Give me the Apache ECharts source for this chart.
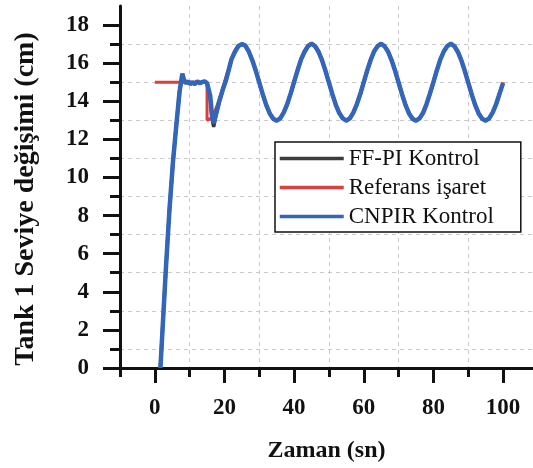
<!DOCTYPE html>
<html><head><meta charset="utf-8">
<script src="https://cdn.jsdelivr.net/npm/echarts@6/dist/echarts.min.js"></script>
<style>html,body{margin:0;padding:0;background:#fff}#c{width:533px;height:468px}</style>
</head><body><div id="c"></div>
<script>
const seriesNames = ['FF-PI Kontrol', 'Referans işaret', 'CNPIR Kontrol'];
const xTitle = 'Zaman (sn)';
const yTitle = 'Tank 1 Seviye değişimi (cm)';
const xMajorTicks = [0, 20, 40, 60, 80, 100];
const xMinorTicks = [-10, 10, 30, 50, 70, 90];
const yMajorTicks = [0, 2, 4, 6, 8, 10, 12, 14, 16, 18];
const yMinorTicks = [1, 3, 5, 7, 9, 11, 13, 15, 17];

// Reference signal
const refTime = [0, 15, 15, 16, 17, 18, 19, 20, 21, 22, 23, 24, 25, 26, 27, 28, 29, 30, 31, 32, 33, 34,
  35, 36, 37, 38, 39, 40, 41, 42, 43, 44, 45, 46, 47, 48, 49, 50, 51, 52, 53, 54,
  55, 56, 57, 58, 59, 60, 61, 62, 63, 64, 65, 66, 67, 68, 69, 70, 71, 72, 73, 74,
  75, 76, 77, 78, 79, 80, 81, 82, 83, 84, 85, 86, 87, 88, 89, 90, 91, 92, 93, 94,
  95, 96, 97, 98, 99, 100];
const refLevel = [15, 15, 13, 13.1, 13.38, 13.82, 14.38, 15, 15.62, 16.18, 16.62, 16.9, 17, 16.9, 16.62, 16.18, 15.62, 15, 14.38, 13.82, 13.38, 13.1,
  13, 13.1, 13.38, 13.82, 14.38, 15, 15.62, 16.18, 16.62, 16.9, 17, 16.9, 16.62, 16.18, 15.62, 15, 14.38, 13.82, 13.38, 13.1,
  13, 13.1, 13.38, 13.82, 14.38, 15, 15.62, 16.18, 16.62, 16.9, 17, 16.9, 16.62, 16.18, 15.62, 15, 14.38, 13.82, 13.38, 13.1,
  13, 13.1, 13.38, 13.82, 14.38, 15, 15.62, 16.18, 16.62, 16.9, 17, 16.9, 16.62, 16.18, 15.62, 15, 14.38, 13.82, 13.38, 13.1,
  13, 13.1, 13.38, 13.82, 14.38, 15];

// Simulated responses (shared time base)
const simTime = [1.6, 2.3, 3.2, 4.2, 5.2, 6.2, 7.1, 7.9, 8.4, 9.0, 9.6, 10.2, 10.8, 11.5, 12.2, 12.9, 13.6, 14.3, 15.0, 15.4,
  15.9, 16.4, 16.9, 17.5, 18.5, 19.5, 20.5, 21.3,
  22, 23, 24, 25, 26, 27, 28, 29, 30, 31, 32, 33, 34, 35, 36, 37, 38, 39, 40,
  41, 42, 43, 44, 45, 46, 47, 48, 49, 50, 51, 52, 53, 54, 55, 56, 57, 58, 59, 60,
  61, 62, 63, 64, 65, 66, 67, 68, 69, 70, 71, 72, 73, 74, 75, 76, 77, 78, 79, 80,
  81, 82, 83, 84, 85, 86, 87, 88, 89, 90, 91, 92, 93, 94, 95, 96, 97, 98, 99, 100];
const cnpirLevel = [0, 2.3, 5.3, 8.3, 10.8, 12.8, 14.5, 15.45, 15.1, 14.95, 15.05, 14.9, 15.0, 14.9, 15.05, 14.95, 15.0, 15.05, 14.95, 15.0,
  14.3, 13.3, 12.85, 13.3, 14.0, 14.6, 15.15, 15.7,
  16.2, 16.6, 16.9, 17.0, 16.92, 16.6, 16.15, 15.6, 14.98, 14.36, 13.8, 13.36, 13.08, 12.98, 13.1, 13.4, 13.84, 14.4, 15.02,
  15.63, 16.2, 16.6, 16.9, 17.02, 16.9, 16.6, 16.16, 15.6, 14.98, 14.36, 13.8, 13.37, 13.1, 12.98, 13.1, 13.4, 13.84, 14.38, 15.0,
  15.62, 16.18, 16.63, 16.9, 17.02, 16.88, 16.6, 16.15, 15.6, 14.98, 14.36, 13.8, 13.36, 13.08, 12.98, 13.1, 13.38, 13.84, 14.4, 15.0,
  15.63, 16.2, 16.62, 16.9, 17.02, 16.9, 16.6, 16.16, 15.6, 14.98, 14.36, 13.8, 13.36, 13.08, 12.98, 13.1, 13.4, 13.84, 14.4, 14.95];
const ffpiLevel = [0, 2.3, 5.3, 8.3, 10.8, 12.8, 14.5, 15.4, 15.1, 14.95, 15.05, 14.9, 15.0, 14.9, 15.05, 14.95, 15.0, 15.05, 14.95, 15.0,
  14.2, 13.1, 12.65, 13.2, 13.95, 14.6, 15.15, 15.7,
  16.2, 16.6, 16.9, 17.0, 16.92, 16.6, 16.15, 15.6, 14.98, 14.36, 13.8, 13.36, 13.08, 12.98, 13.1, 13.4, 13.84, 14.4, 15.02,
  15.63, 16.2, 16.6, 16.9, 17.02, 16.9, 16.6, 16.16, 15.6, 14.98, 14.36, 13.8, 13.37, 13.1, 12.98, 13.1, 13.4, 13.84, 14.38, 15.0,
  15.62, 16.18, 16.63, 16.9, 17.02, 16.88, 16.6, 16.15, 15.6, 14.98, 14.36, 13.8, 13.36, 13.08, 12.98, 13.1, 13.38, 13.84, 14.4, 15.0,
  15.63, 16.2, 16.62, 16.9, 17.02, 16.9, 16.6, 16.16, 15.6, 14.98, 14.36, 13.8, 13.36, 13.08, 12.98, 13.1, 13.4, 13.84, 14.4, 14.95];

function pairs(t, v) { return t.map(function (x, i) { return [x, v[i]]; }); }

const FONT = 'Liberation Serif, Times New Roman, serif';
const AX = '#111';
const gridDash = { color: '#c9c9c9', width: 1, type: [4, 4] };

const chart = echarts.init(document.getElementById('c'), null, { renderer: 'canvas' });
chart.setOption({
  animation: false,
  backgroundColor: '#fff',
  grid: { left: 120, right: 0, top: 6, bottom: 99, containLabel: false },
  legend: {
    data: seriesNames,
    orient: 'vertical',
    left: 275, top: 142,
    itemWidth: 64, itemHeight: 20, itemGap: 6,
    padding: [5, 27, 4, 3],
    borderColor: '#111', borderWidth: 1.5,
    backgroundColor: '#fff',
    itemStyle: { opacity: 0 },
    lineStyle: { width: 3.5 },
    textStyle: { fontFamily: FONT, fontSize: 23, color: '#111' }
  },
  xAxis: [
    {
      type: 'value', position: 'bottom', min: -10, max: 108.6, z: 3,
      name: xTitle, nameLocation: 'middle', nameGap: 71,
      nameTextStyle: { fontFamily: FONT, fontWeight: 'bold', fontSize: 24, color: AX },
      axisLine: { show: true, onZero: false, lineStyle: { color: AX, width: 3 } },
      axisTick: { show: true, customValues: xMajorTicks, length: 15, lineStyle: { color: AX, width: 3 } },
      axisLabel: { customValues: xMajorTicks, margin: 29, fontFamily: FONT, fontWeight: 'bold', fontSize: 23, color: AX },
      splitLine: { show: false }
    },
    {
      type: 'value', position: 'bottom', min: -10, max: 108.6, z: 1,
      axisLine: { show: false, onZero: false },
      axisTick: { show: true, customValues: xMinorTicks, length: 9, lineStyle: { color: AX, width: 3 } },
      axisLabel: { show: false },
      splitLine: { show: true, lineStyle: gridDash }
    }
  ],
  yAxis: [
    {
      type: 'value', position: 'left', min: 0, max: 19, z: 3,
      name: yTitle, nameLocation: 'middle', nameGap: 80, nameRotate: 90,
      nameTextStyle: { fontFamily: FONT, fontWeight: 'bold', fontSize: 28, color: AX, padding: [0, 24, 0, 0] },
      axisLine: { show: true, onZero: false, lineStyle: { color: AX, width: 3 } },
      axisTick: { show: true, customValues: yMajorTicks, length: 17, lineStyle: { color: AX, width: 3 } },
      axisLabel: { customValues: yMajorTicks, margin: 31, fontFamily: FONT, fontWeight: 'bold', fontSize: 23, color: AX },
      splitLine: { show: false }
    },
    {
      type: 'value', position: 'left', min: 0, max: 19, z: 1,
      axisLine: { show: false, onZero: false },
      axisTick: { show: true, customValues: yMinorTicks, length: 10, lineStyle: { color: AX, width: 3 } },
      axisLabel: { show: false },
      splitLine: { show: true, lineStyle: gridDash }
    }
  ],
  series: [
    {
      name: seriesNames[0], type: 'line', xAxisIndex: 0, yAxisIndex: 0,
      data: pairs(simTime, ffpiLevel), symbol: 'none', showSymbol: false,
      lineStyle: { color: '#3c3c3c', width: 3.5 }, itemStyle: { color: '#3c3c3c' }, z: 4
    },
    {
      name: seriesNames[1], type: 'line', xAxisIndex: 0, yAxisIndex: 0,
      data: pairs(refTime, refLevel), symbol: 'none', showSymbol: false,
      lineStyle: { color: '#d9403f', width: 3 }, itemStyle: { color: '#d9403f' }, z: 5
    },
    {
      name: seriesNames[2], type: 'line', xAxisIndex: 0, yAxisIndex: 0,
      data: pairs(simTime, cnpirLevel), symbol: 'none', showSymbol: false,
      lineStyle: { color: '#3366bb', width: 4.5 }, itemStyle: { color: '#3366bb' }, z: 6
    }
  ]
});
</script>
</body></html>
